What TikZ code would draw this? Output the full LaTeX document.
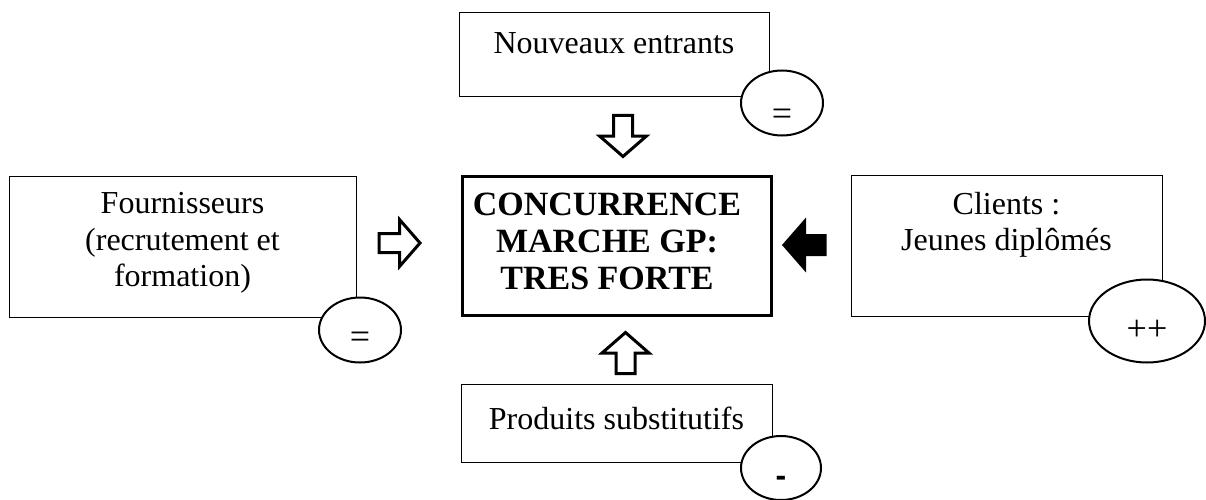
\documentclass[tikz,border=0pt]{standalone}
\usepackage{fontspec}
\setmainfont{Liberation Serif}
\setsansfont{Liberation Sans}
\usetikzlibrary{shapes.geometric}

\tikzset{
  forcebox/.style={draw, rectangle, line width=1pt, fill=white},
  centrebox/.style={draw, rectangle, line width=3pt, fill=white},
  markell/.style={draw, ellipse, line width=2pt, fill=white, inner sep=0pt},
  marktext/.style={font=\fontsize{36}{40}\selectfont},
  blockarrow/.pic={
    \path[pic actions] (-20.5,-9.5) -- (0,-9.5) -- (0,-23.5) -- (20.5,0)
      -- (0,23.5) -- (0,9.5) -- (-20.5,9.5) -- cycle;
  }
}

\begin{document}
\begin{tikzpicture}[x=1pt, y=-1pt, font=\fontsize{32}{36.6}\selectfont]
    \useasboundingbox (0,0) rectangle (1206,500);

    % Five forces boxes
    \node[forcebox, minimum width=310pt, minimum height=84pt] (newB) at (614,55) {};
    \node[forcebox, minimum width=347pt, minimum height=141pt] (supB) at (182.5,246.5) {};
    \node[centrebox, minimum width=309pt, minimum height=139pt] (compB) at (617,246) {};
    \node[forcebox, minimum width=311pt, minimum height=141pt] (cliB) at (1006.5,245.5) {};
    \node[forcebox, minimum width=311pt, minimum height=78pt] (subB) at (616.5,423) {};

    % Intensity marks
    \node[markell, minimum width=82pt, minimum height=65pt] (newE) at (782,103) {};
    \node[markell, minimum width=82pt, minimum height=65pt] (supE) at (360,330) {};
    \node[markell, minimum width=116pt, minimum height=83pt] (cliE) at (1147,321) {};
    \node[markell, minimum width=80pt, minimum height=64pt] (subE) at (781,468) {};

    % Texts
    \node (newT) at (614,43) {Nouveaux entrants};
    \node[align=center] (supT) at (182.5,243) {Fournisseurs\\(recrutement et\\formation)};
    \node[align=center, font=\fontsize{34}{37}\selectfont\bfseries] (compT) at (607,241) {CONCURRENCE\\MARCHE GP:\\TRES FORTE};
    \node[align=center] (cliT) at (1006.5,225) {Clients :\\Jeunes diplômés};
    \node (subT) at (616.5,418) {Produits substitutifs};

    \node[marktext] (newS) at (782,117) {=};
    \node[marktext] (supS) at (360,340) {=};
    \node[marktext] (cliS) at (1147,330) {++};
    \node[font=\fontsize{32}{36.6}\selectfont\sffamily\bfseries] (subS) at (781,481) {-};

    % Block arrows
    \pic[draw, fill=white, line width=3pt, rotate=-90] (downA) at (623,136) {blockarrow};
    \pic[draw, fill=white, line width=3pt] (rightA) at (399.5,243) {blockarrow};
    \pic[draw, fill=black, line width=3pt, rotate=180] (leftA) at (804.5,245) {blockarrow};
    \pic[draw, fill=white, line width=3pt, rotate=90] (upA) at (625.5,353) {blockarrow};
\end{tikzpicture}
\end{document}
